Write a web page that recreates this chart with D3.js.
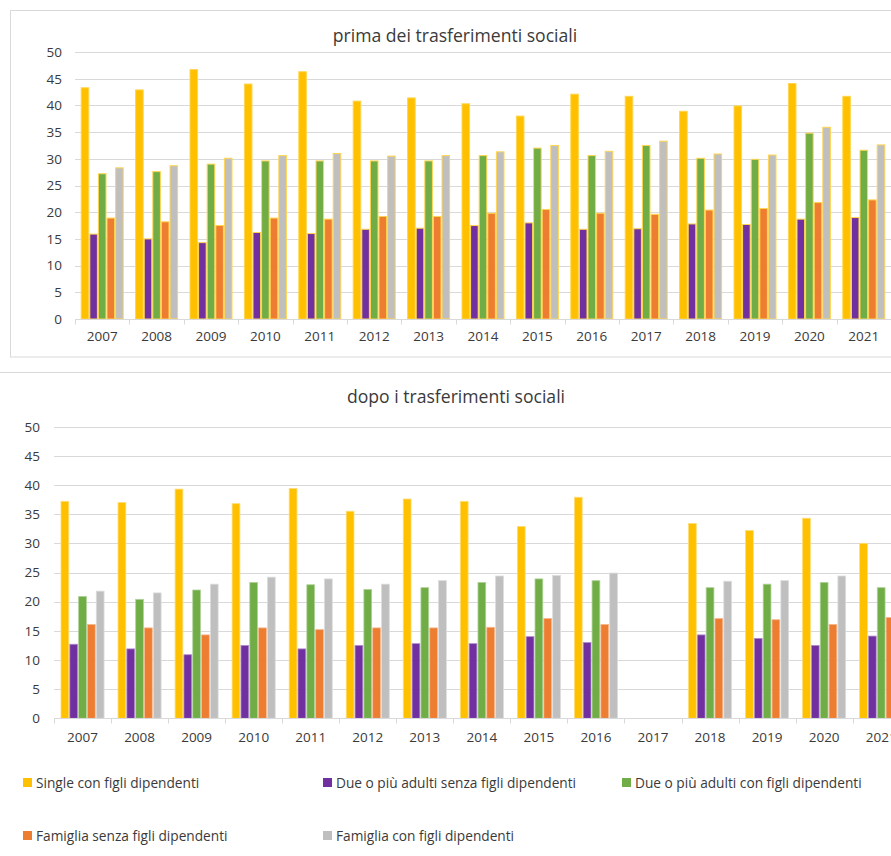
<!DOCTYPE html>
<html>
<head>
<meta charset="utf-8">
<script src="https://cdn.jsdelivr.net/npm/d3@7"></script>
<style>
  html, body { margin: 0; padding: 0; background: #fff; overflow: hidden; }
  svg { display: block; }
  text { font-family: "Open Sans", "Noto Sans", sans-serif; fill: #3a3a3a; }
</style>
</head>
<body>
<svg id="chart" width="891" height="856"></svg>
<script>
const years = ["2007","2008","2009","2010","2011","2012","2013","2014","2015","2016","2017","2018","2019","2020","2021"];
const seriesNames = [
  "Single con figli dipendenti",
  "Due o più adulti senza figli dipendenti",
  "Due o più adulti con figli dipendenti",
  "Famiglia senza figli dipendenti",
  "Famiglia con figli dipendenti"
];
const colors = ["#FFC000", "#7030A0", "#70AD47", "#ED7D31", "#BFBFBF"];
const yTicks = [0, 5, 10, 15, 20, 25, 30, 35, 40, 45, 50];

// prima dei trasferimenti sociali
const primaSingle   = [43.3, 42.9, 46.7, 44.0, 46.3, 40.8, 41.4, 40.3, 38.0, 42.1, 41.7, 38.9, 39.9, 44.1, 41.7];
const primaDueSenza = [15.9, 15.0, 14.3, 16.2, 16.0, 16.8, 17.0, 17.5, 18.0, 16.8, 16.9, 17.8, 17.7, 18.7, 19.0];
const primaDueCon   = [27.2, 27.6, 29.0, 29.6, 29.6, 29.6, 29.6, 30.6, 32.0, 30.6, 32.5, 30.1, 29.9, 34.8, 31.6];
const primaFamSenza = [18.9, 18.2, 17.5, 18.9, 18.7, 19.2, 19.2, 19.8, 20.5, 19.8, 19.6, 20.4, 20.7, 21.8, 22.3];
const primaFamCon   = [28.3, 28.7, 30.1, 30.6, 31.0, 30.5, 30.6, 31.3, 32.5, 31.4, 33.3, 30.9, 30.7, 35.9, 32.6];

// dopo i trasferimenti sociali (2017 missing)
const dopoSingle   = [37.2, 37.0, 39.3, 36.8, 39.4, 35.5, 37.6, 37.2, 32.9, 37.9, null, 33.4, 32.2, 34.3, 30.0];
const dopoDueSenza = [12.7, 11.9, 10.9, 12.5, 11.9, 12.5, 12.8, 12.8, 14.0, 13.0, null, 14.3, 13.7, 12.5, 14.1];
const dopoDueCon   = [20.9, 20.4, 22.0, 23.3, 22.9, 22.1, 22.4, 23.3, 23.9, 23.6, null, 22.4, 23.0, 23.3, 22.4];
const dopoFamSenza = [16.1, 15.5, 14.3, 15.5, 15.2, 15.5, 15.5, 15.6, 17.1, 16.1, null, 17.1, 16.9, 16.1, 17.3];
const dopoFamCon   = [21.8, 21.5, 23.0, 24.2, 23.9, 23.0, 23.6, 24.4, 24.5, 24.9, null, 23.5, 23.6, 24.4, 23.5];

const primaSeries = [primaSingle, primaDueSenza, primaDueCon, primaFamSenza, primaFamCon];
const dopoSeries  = [dopoSingle, dopoDueSenza, dopoDueCon, dopoFamSenza, dopoFamCon];

const svg = d3.select("#chart");
const gridColor = "#D9D9D9";
const textColor = "#3a3a3a";

// frames
svg.append("rect").attr("x", 10.5).attr("y", 10.5).attr("width", 900).attr("height", 346.5)
  .attr("fill", "#fff").attr("stroke", gridColor);
svg.append("rect").attr("x", -5).attr("y", 372.5).attr("width", 920).attr("height", 500)
  .attr("fill", "#fff").attr("stroke", gridColor);

function drawPanel(cfg) {
  const g = svg.append("g");
  const x = d3.scaleBand().domain(years).range([cfg.left, cfg.right])
    .paddingInner(cfg.pad).paddingOuter(cfg.pad / 2);
  const xs = d3.scaleBand().domain(d3.range(5)).range([0, x.bandwidth()]).paddingInner(0.12);
  const y = d3.scaleLinear().domain([0, 50]).range([cfg.bottom, cfg.top]);

  // gridlines
  g.append("g").selectAll("line").data(yTicks.filter(d => d > 0)).join("line")
    .attr("x1", cfg.left).attr("x2", cfg.right)
    .attr("y1", d => Math.round(y(d)) + 0.5).attr("y2", d => Math.round(y(d)) + 0.5)
    .attr("stroke", gridColor).attr("stroke-width", 1);

  // y axis labels
  const ya = d3.axisLeft(y).tickValues(yTicks).tickSize(0).tickPadding(cfg.left - cfg.yLabelX);
  const yg = g.append("g").attr("transform", `translate(${cfg.left},0)`).call(ya);
  yg.select(".domain").remove();
  yg.selectAll("text").style("font-size", "13.5px").style("fill", textColor)
    .style("font-family", "'Open Sans', sans-serif");

  // bars
  cfg.series.forEach((vals, si) => {
    g.append("g").selectAll("rect")
      .data(years.map((yr, i) => ({ yr, v: vals[i] })).filter(d => d.v != null))
      .join("rect")
      .attr("x", d => x(d.yr) + xs(si))
      .attr("width", xs.bandwidth())
      .attr("y", d => y(d.v))
      .attr("height", d => y(0) - y(d.v))
      .attr("fill", colors[si])
      .attr("stroke", cfg.stroke(si))
      .attr("stroke-width", cfg.strokeWidth);
  });

  // x axis
  const xa = d3.axisBottom(x).tickSize(0).tickPadding(cfg.xLabelPad);
  const xg = g.append("g").attr("transform", `translate(0,${Math.round(cfg.bottom) + 0.5})`).call(xa);
  xg.select(".domain").attr("stroke", gridColor).attr("d", `M${cfg.left},0H${cfg.right}`);
  xg.selectAll("text").style("font-size", "13.5px").style("fill", textColor)
    .style("font-family", "'Open Sans', sans-serif");
  // category separator ticks
  const bounds = years.map(yr => x(yr) - x.step() * x.paddingInner() / 2);
  bounds.push(cfg.right);
  xg.append("g").selectAll("line").data(bounds).join("line")
    .attr("x1", d => Math.round(d) + 0.5).attr("x2", d => Math.round(d) + 0.5)
    .attr("y1", 0).attr("y2", 5).attr("stroke", gridColor);

  // title
  svg.append("text").attr("x", cfg.titleX).attr("y", cfg.titleY).attr("text-anchor", "middle")
    .style("font-size", "17.6px").style("fill", textColor).text(cfg.title);
}

drawPanel({
  title: "prima dei trasferimenti sociali", titleX: 455, titleY: 42,
  left: 75, right: 891, top: 52, bottom: 319, pad: 0.228, yLabelX: 62, xLabelPad: 12,
  series: primaSeries, stroke: () => "#FFD54F", strokeWidth: 1
});
drawPanel({
  title: "dopo i trasferimenti sociali", titleX: 456, titleY: 403,
  left: 54, right: 909.7, top: 426.7, bottom: 718.3, pad: 0.245, yLabelX: 40, xLabelPad: 14,
  series: dopoSeries, stroke: si => d3.interpolateRgb(colors[si], "#ffffff")(0.45), strokeWidth: 0.8
});

// legend
const legendPos = [
  { x: 23, y: 778 }, { x: 323, y: 778 }, { x: 622, y: 778 },
  { x: 23, y: 831 }, { x: 323, y: 831 }
];
const lg = svg.append("g").selectAll("g").data(seriesNames).join("g")
  .attr("transform", (d, i) => `translate(${legendPos[i].x},${legendPos[i].y})`);
lg.append("rect").attr("width", 9).attr("height", 9).attr("fill", (d, i) => colors[i]);
lg.append("text").attr("x", 13).attr("y", 9.5).style("font-size", "13.7px").style("fill", textColor).text(d => d);
</script>
</body>
</html>
